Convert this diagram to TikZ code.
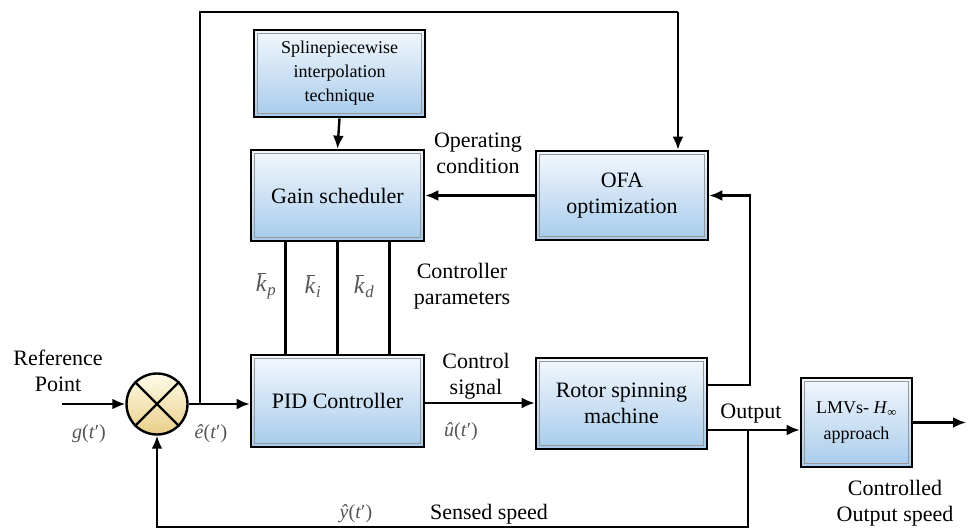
\documentclass[tikz,border=0pt]{standalone}
\usepackage{fontspec}
\setmainfont{Liberation Serif}
\usetikzlibrary{arrows.meta,calc}
\definecolor{boxtop}{HTML}{F2F7FD}
\definecolor{boxbot}{HTML}{A9CCEC}
\definecolor{sumtop}{HTML}{FFFBE8}
\definecolor{sumbot}{HTML}{E9D08A}
\definecolor{labgray}{HTML}{555555}
\newcommand\bigtext{\fontsize{22}{26}\selectfont}
\newcommand\smalltext{\fontsize{18}{24}\selectfont}
% italic symbols set in the text font
\newcommand\sym[1]{\textit{#1}}
\newcommand\barsym[2]{\textit{#1}\kern-0.38em\raisebox{0.74em}{\rule{0.34em}{0.055em}}\kern0.06em\textsubscript{\textit{#2}}}
% vertical colour bands inside a node, from colour #1 (top) to #2 (bottom)
\newcommand\bandfill[2]{%
  \foreach \i in {0,...,23}{%
    \pgfmathsetmacro\pct{100-\i*100/23}%
    \fill[#1!\pct!#2]
      ($(path picture bounding box.north west)!\i/24!(path picture bounding box.south west)$)
      rectangle
      ($(path picture bounding box.north east)!{(\i+1.4)/24}!(path picture bounding box.south east)$);
  }}
\tikzset{
  blk/.style={draw=black, line width=2.6pt,
    align=center, inner sep=2pt, font=\bigtext,
    path picture={\bandfill{boxtop}{boxbot}%
      \draw[black!40, line width=1.2pt]
      ([xshift=3.5pt,yshift=-3.5pt]path picture bounding box.north west) rectangle
      ([xshift=-3.5pt,yshift=3.5pt]path picture bounding box.south east);}},
  sumnode/.style={circle, draw=black, line width=2.4pt,
    path picture={\bandfill{sumtop}{sumbot}},
    minimum size=61pt, inner sep=0pt},
  wire/.style={line width=2.4pt},
  arr/.style={wire, -{Latex[length=13pt,width=11pt]}},
  lab/.style={align=center, font=\bigtext, inner sep=0pt},
  mlab/.style={text=labgray, font=\fontsize{20}{22}\selectfont, inner sep=0pt},
  klab/.style={text=labgray, font=\fontsize{24}{26}\selectfont, inner sep=0pt},
}
\begin{document}
\begin{tikzpicture}[x=1pt, y=-1pt]
\useasboundingbox (0,0) rectangle (969,530);

% blocks
\node[blk, minimum width=171pt, minimum height=87pt, font=\smalltext]
  (spline) at (339.5,73.5) {Splinepiecewise\\interpolation\\technique};
\node[blk, minimum width=173pt, minimum height=91pt] (gain) at (337.5,195.5) {Gain scheduler};
\node[blk, minimum width=173pt, minimum height=92pt] (pid) at (337.5,401) {PID Controller};
\node[blk, minimum width=172pt, minimum height=89pt] (ofa) at (622,195.5) {OFA\\optimization};
\node[blk, minimum width=171pt, minimum height=91pt] (rotor) at (621.5,403.5) {Rotor spinning\\machine};
\node[blk, minimum width=111pt, minimum height=89pt, font=\smalltext]
  (lmv) at (856.5,422.5) {LMVs- \sym{H}\textsubscript{∞}\\[2pt]approach};

% summing junction
\node[sumnode] (sum) at (157,404) {};
\draw[line width=2.2pt] (sum.north east) -- (sum.south west);
\draw[line width=2.2pt] (sum.north west) -- (sum.south east);

% helper points
\coordinate (in) at (62,404);
\coordinate (br) at (200,404);
\coordinate (topR) at (678,12);
\coordinate (fb) at (750,385);
\coordinate (outy) at (748,430);
\coordinate (low) at (748,527);
\coordinate (out) at (966,422.5);

% signal path
\draw[arr] (in) -- (sum.west);
\draw[arr] (sum.east) -- (sum.east -| pid.west);
\draw[wire] (br) |- (topR);
\draw[arr] (topR) -- (topR |- ofa.north);
\draw[arr] (spline.south) -- (gain.north);
\draw[arr] (ofa.west) -- (gain.east);
\draw[arr] (fb -| rotor.east) -- (fb) |- (ofa.east);
\draw[arr] (pid.east |- 0,403) -- (rotor.west |- 0,403);
\draw[arr] (outy -| rotor.east) -- (outy -| lmv.west);
\draw[arr] (outy) -- (low) -| (sum.south);
\draw[arr] (lmv.east) -- (out);

% controller gains
\draw[wire] ([xshift=-52pt]gain.south) -- ([xshift=-52pt]pid.north);
\draw[wire] (gain.south) -- (pid.north);
\draw[wire] ([xshift=52pt]gain.south) -- ([xshift=52pt]pid.north);

% labels
\node[lab] (tref) at (58,371) {Reference\\Point};
\node[mlab] (tg) at (89,434) {\sym{g}(\sym{t}′)};
\node[mlab] (te) at (211,434) {\sym{ê}(\sym{t}′)};
\node[lab] (toper) at (478,153) {Operating\\condition};
\node[lab] (tpar) at (462,286) {Controller\\parameters};
\node[klab] (tkp) at (266,286) {\barsym{k}{p}};
\node[klab] (tki) at (313,286) {\barsym{k}{i}};
\node[klab] (tkd) at (364,286) {\barsym{k}{d}};
\node[lab] (tctl) at (476,376) {Control\\signal};
\node[mlab] (tu) at (461,432) {\sym{û}(\sym{t}′)};
\node[lab] (tout) at (751,414) {Output};
\node[lab] (tcos) at (895,503) {Controlled\\Output speed};
\node[mlab] (ty) at (356,514) {\sym{ŷ}(\sym{t}′)};
\node[lab] (tsen) at (489,514) {Sensed speed};
\end{tikzpicture}
\end{document}
